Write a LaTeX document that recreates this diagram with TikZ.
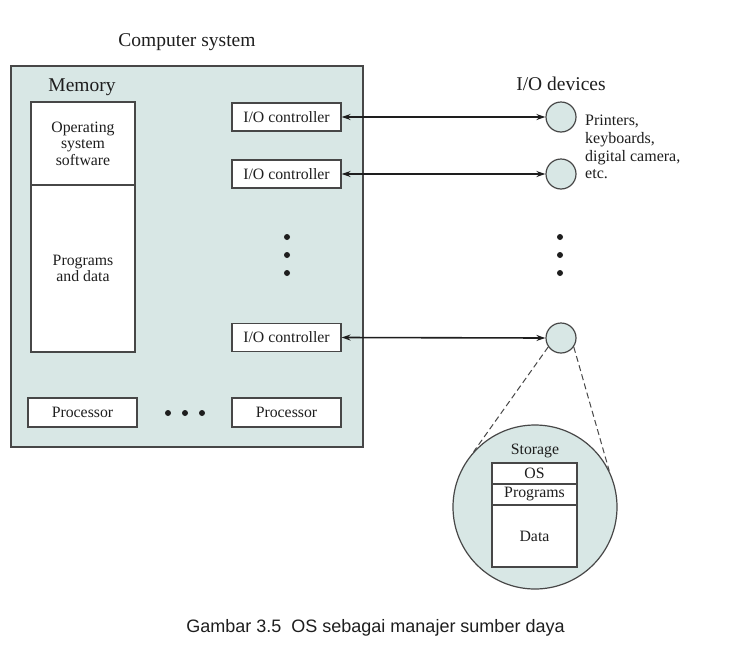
\documentclass[tikz,border=0pt]{standalone}
\usepackage{fontspec}
\setmainfont{Liberation Serif}
\newfontfamily\capfont{Liberation Sans}
\usetikzlibrary{arrows.meta}
\definecolor{panel}{HTML}{D8E7E5}
\definecolor{edge}{HTML}{474747}
\definecolor{ink}{HTML}{1E1E1E}
\tikzset{
  box/.style={draw=edge, line width=1.2pt, fill=white, inner sep=0pt, text=ink,
              font=\fontsize{15.8}{16.5}\selectfont, align=center},
  title/.style={inner sep=0pt, text=ink, font=\fontsize{19.5}{21}\selectfont},
  lbl/.style={inner sep=0pt, text=ink, font=\fontsize{15.8}{16.5}\selectfont, align=center},
  dev/.style={circle, draw=edge, line width=1.2pt, fill=panel, minimum size=30pt, inner sep=0pt},
  dotn/.style={circle, fill=ink, minimum size=6pt, inner sep=0pt},
  link/.style={{Stealth[length=9pt,width=6pt]}-{Stealth[length=9pt,width=6pt]}, line width=1.6pt, draw=ink},
  zoomline/.style={draw=edge, line width=1pt, dash pattern=on 6pt off 3.5pt},
}
\begin{document}
\begin{tikzpicture}[x=1pt,y=-1pt]
\useasboundingbox (0,0) rectangle (753,659);
\fill[white] (0,0) rectangle (753,659);

% computer system
\node[title] (cstitle) at (187,42) {Computer system};
\node[draw=edge, line width=1.2pt, fill=panel, minimum width=352pt, minimum height=381pt, inner sep=0pt] (cs) at (187,256.5) {};
\node[title] (memtitle) at (82,87) {Memory};
\node[box, minimum width=104pt, minimum height=83pt] (osw) at (83,143.5) {Operating\\system\\software};
\node[box, minimum width=104pt, minimum height=167pt] (prg) at (83,268.5) {Programs\\and data};

\node[box, minimum width=109pt, minimum height=28pt] (io1) at (286.5,117) {I/O controller};
\node[box, minimum width=109pt, minimum height=28pt] (io2) at (286.5,174) {I/O controller};
\node[box, minimum width=109pt, minimum height=28pt] (io3) at (286.5,337.5) {I/O controller};

\node[dotn] (v1) at (287,237) {};
\node[dotn] (v2) at (287,255) {};
\node[dotn] (v3) at (287,273) {};

\node[box, minimum width=109pt, minimum height=29pt] (p1) at (82.5,412.5) {Processor};
\node[box, minimum width=109pt, minimum height=29pt] (p2) at (286.5,412.5) {Processor};
\node[dotn] (h1) at (168,413) {};
\node[dotn] (h2) at (185,413) {};
\node[dotn] (h3) at (202,413) {};

% I/O devices
\node[title] (iotitle) at (561,84) {I/O devices};
\node[dev] (d1) at (561,117) {};
\node[dev] (d2) at (561,174) {};
\node[dev] (d3) at (561,338) {};
\node[lbl, align=left, anchor=north west, font=\fontsize{16}{17.7}\selectfont] (devtxt) at (585,115) {Printers,\\keyboards,\\digital camera,\\etc.};

\node[dotn] (w1) at (560,237) {};
\node[dotn] (w2) at (560,255) {};
\node[dotn] (w3) at (560,273) {};

\draw[link] (io1.east) -- (d1.west);
\draw[link] (io2.east) -- (d2.west);
\draw[link] (io3.east) -- (d3.west);

% storage
\node[circle, draw=edge, line width=1.2pt, fill=panel, minimum size=164pt, inner sep=0pt] (st) at (535,507) {};
\draw[zoomline] (d3.215) -- (st.138);
\draw[zoomline] (d3.-35) -- (st.26);
\node[lbl] (sttitle) at (535,451) {Storage};
\node[box, minimum width=85pt, minimum height=21pt] (sos) at (534.5,473.5) {OS};
\node[box, minimum width=85pt, minimum height=21pt] (sprog) at (534.5,494.5) {Programs};
\node[box, minimum width=85pt, minimum height=62pt] (sdata) at (534.5,536) {Data};

% caption
\node[inner sep=0pt, anchor=base, text=ink, font=\capfont\fontsize{18}{20}\selectfont] (cap) at (375.5,632) {Gambar 3.5\ \ OS sebagai manajer sumber daya};
\end{tikzpicture}
\end{document}
